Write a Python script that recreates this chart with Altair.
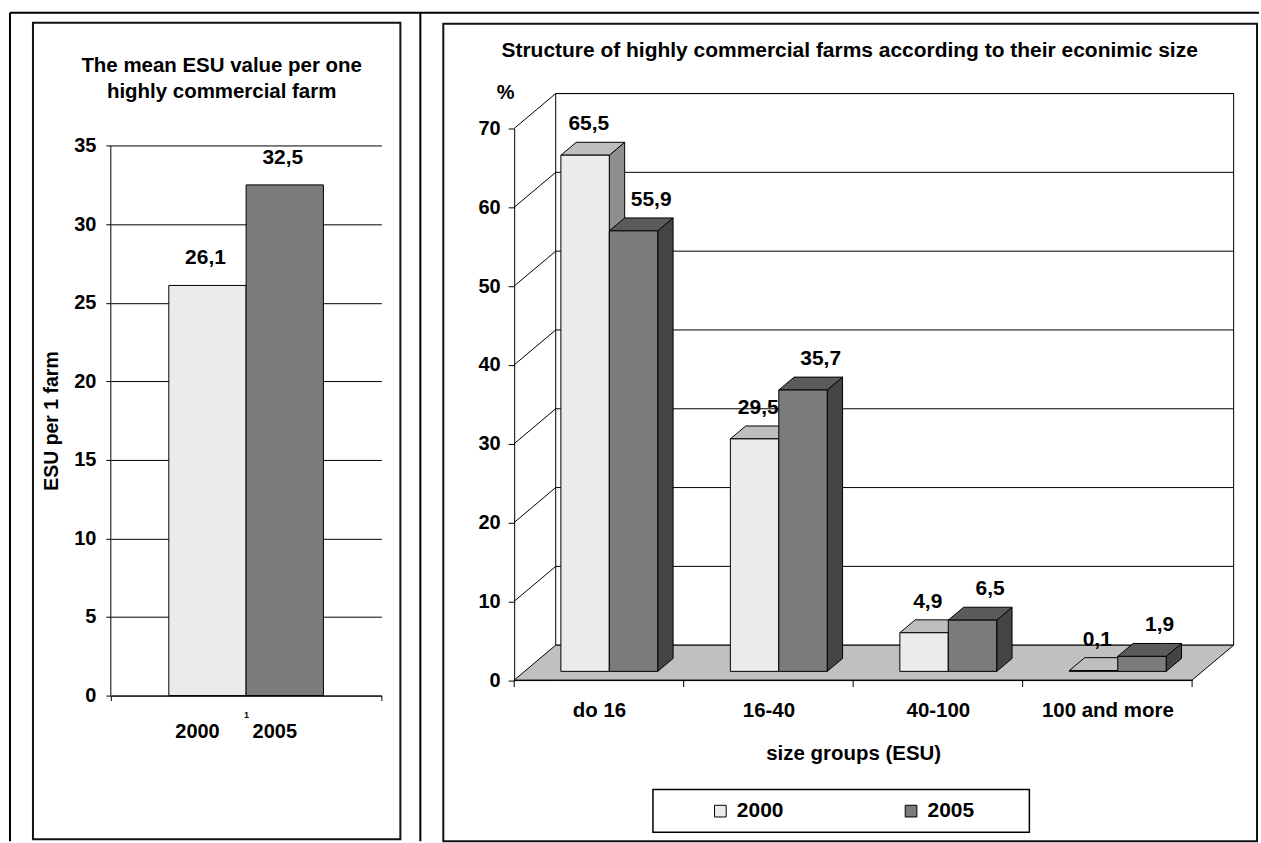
import json

import altair as alt
import pandas as pd

# ---------------- data ----------------
years = ["2000", "2005"]
mean_esu = [26.1, 32.5]                       # ESU per one highly commercial farm
size_groups = ["do 16", "16-40", "40-100", "100 and more"]
share_2000 = [65.5, 29.5, 4.9, 0.1]           # % of farms
share_2005 = [55.9, 35.7, 6.5, 1.9]           # % of farms
esu_ticks = [0, 5, 10, 15, 20, 25, 30, 35]
pct_ticks = [0, 10, 20, 30, 40, 50, 60, 70]
group_edges = [0, 1, 2, 3, 4]

title_left = "The mean ESU value per one\nhighly commercial farm"
title_right = "Structure of highly commercial farms according to their econimic size"

# ---------------- styling ----------------
FONT = "Liberation Sans"
FRONT = {"2000": "#ebebeb", "2005": "#7b7b7b"}
TOP = {"2000": "#bebebe", "2005": "#5b5b5b"}
SIDE = {"2000": "#8f8f8f", "2005": "#444444"}
FLOOR = "#c0c0c0"
TICK_FS, VALUE_FS, CAT_FS, TITLE_FS = 20, 21, 20.5, 20.5


def fmt(v):
    return f"{v:.1f}".replace(".", ",")


one = pd.DataFrame({"k": [0]})

# ================= left panel: mean ESU =================
LW, LH = 271, 568
l_x = alt.Scale(paddingInner=0, paddingOuter=0)
l_off = alt.Scale(domain=years, paddingInner=0, paddingOuter=0.75)
l_y = alt.Scale(domain=[0, 36.09], nice=False, zero=True)
l_color = alt.Scale(domain=years, range=[FRONT[y] for y in years])

# one axis definition per channel, shared by every layer that uses the scale
l_xaxis = alt.Axis(title=None, labelAngle=0, labelFontSize=9, labelPadding=10,
                   tickSize=5, tickBand="extent")
l_yaxis = alt.Axis(values=esu_ticks, grid=True, gridColor="black", gridWidth=1,
                   domain=False, tickSize=5, labelPadding=10, labelFontSize=TICK_FS,
                   title="ESU  per 1 farm", titleFontSize=19.5, titleAngle=270,
                   titleX=-53, titleY=292.5, titleAlign="center",
                   titleBaseline="alphabetic")

left_df = pd.DataFrame({
    "cat": ["1"] * len(years),
    "year": years,
    "value": mean_esu,
    "label": [fmt(v) for v in mean_esu],
})

X_L = alt.X("cat:N", scale=l_x, axis=l_xaxis)
OFF_L = alt.XOffset("year:N", scale=l_off)
Y_L = alt.Y("value:Q", scale=l_y, axis=l_yaxis)

left_bars = alt.Chart(left_df).mark_bar(stroke="black", strokeWidth=1).encode(
    x=X_L, xOffset=OFF_L, y=Y_L,
    color=alt.Color("year:N", scale=l_color, legend=None),
)

left_axis_line = alt.Chart(pd.DataFrame({"value": [esu_ticks[0]], "hi": [esu_ticks[-1]]})).mark_rule(
    color="black", strokeWidth=1
).encode(x=alt.value(0), y=Y_L, y2="hi:Q")

left_values = alt.Chart(left_df).mark_text(
    fontSize=VALUE_FS, fontWeight="bold", baseline="alphabetic", dy=-21, dx=-2, color="black"
).encode(x=X_L, xOffset=OFF_L, y=Y_L, text="label:N")

left_years = alt.Chart(left_df).mark_text(
    fontSize=TICK_FS, fontWeight="bold", baseline="alphabetic", dx=-10, color="black"
).encode(x=X_L, xOffset=OFF_L, y=alt.value(611), text="year:N")

left_title = alt.Chart(pd.DataFrame({"t": [title_left]})).mark_text(
    fontSize=TITLE_FS, fontWeight="bold", baseline="alphabetic", align="center",
    lineBreak="\n", lineHeight=26, color="black"
).encode(x=alt.value(111), y=alt.value(-56.3), text="t:N")

# page frame (top rule, left edge, column divider) and the panel box
frame_top = alt.Chart(one).mark_rule(color="black", strokeWidth=2).encode(
    x=alt.value(-101), x2=alt.value(1150), y=alt.value(-116))
frame_left = alt.Chart(one).mark_rule(color="black", strokeWidth=2).encode(
    x=alt.value(-101), y=alt.value(-116), y2=alt.value(714))
frame_mid = alt.Chart(one).mark_rule(color="black", strokeWidth=2).encode(
    x=alt.value(310), y=alt.value(-116), y2=alt.value(714))
left_box = alt.Chart(one).mark_rect(fillOpacity=0, stroke="#111", strokeWidth=2).encode(
    x=alt.value(-78), x2=alt.value(290), y=alt.value(-106), y2=alt.value(712))

left = alt.layer(
    left_bars, left_axis_line, left_values, left_years, left_title,
    frame_top, frame_left, frame_mid, left_box,
).properties(width=LW, height=LH)

# ================= right panel: 3-D clustered columns =================
RW, RH = 679, 552.5
r_x = alt.Scale(domain=[0, 4], nice=False, zero=False)
r_y = alt.Scale(domain=[0, 70], nice=False, zero=False)
r_color = alt.Scale(domain=years, range=[FRONT[y] for y in years])

label_expr = f"{json.dumps(size_groups)}[floor(datum.value)]"
r_xaxis = alt.Axis(values=[0.5, 1.5, 2.5, 3.5], labelExpr=label_expr, ticks=False, grid=False,
                   labelFlush=False, labelPadding=20, labelFontSize=CAT_FS, labelAngle=0,
                   title="size groups (ESU)", titleFontSize=CAT_FS, titlePadding=23)
r_yaxis = alt.Axis(values=pct_ticks, grid=False, tickSize=6, labelPadding=8, labelFontSize=TICK_FS,
                   title="%", titleFontSize=TICK_FS, titleAngle=0, titleX=-9, titleY=-30,
                   titleAlign="center", titleBaseline="alphabetic")
X_R = alt.X("x:Q", scale=r_x, axis=r_xaxis)
Y_R = alt.Y("y:Q", scale=r_y, axis=r_yaxis)

DX, DY = 0.245, 4.43          # depth of the box, in axis units
BAR = 1 / 3.5                 # column width (gap width 150 %)
GAP = 0.75 * BAR
FDEP, BDEP = 0.25, 0.62       # front / back depth of the columns
FX, FY = FDEP * DX, FDEP * DY
BX, BY = BDEP * DX, BDEP * DY
LABEL_DX = {"2000": -4, "2005": 10}

fronts, sides, tops, labels = [], [], [], []
for s, (yr, vals) in enumerate(zip(years, [share_2000, share_2005])):
    for i, v in enumerate(vals):
        xl = i + GAP + s * BAR
        xr = xl + BAR
        face = f"{yr}-{i}"
        fronts.append(dict(year=yr, x=xl + FX, x2=xr + FX, y=FY, y2=v + FY))
        sides += [
            dict(year=yr, face=face, x=xr + FX, y=FY, y2=v + FY),
            dict(year=yr, face=face, x=xr + BX, y=BY, y2=v + BY),
        ]
        tops += [
            dict(year=yr, face=face, x=xl + FX, y=v + FY, y2=v + FY),
            dict(year=yr, face=face, x=xl + BX, y=v + FY, y2=v + BY),
            dict(year=yr, face=face, x=xr + FX, y=v + FY, y2=v + BY),
            dict(year=yr, face=face, x=xr + BX, y=v + BY, y2=v + BY),
        ]
        labels.append(dict(year=yr, x=(xl + xr) / 2 + (FX + BX) / 2, y=v + BY, label=fmt(v)))

fronts = pd.DataFrame(fronts)
sides = pd.DataFrame(sides)
tops = pd.DataFrame(tops)
labels = pd.DataFrame(labels)

wall = pd.DataFrame({"x": [DX], "x2": [4 + DX], "y": [DY], "y2": [pct_ticks[-1] + DY]})
floor = pd.DataFrame({"x": [0, DX, 4, 4 + DX], "y": [0, 0, 0, DY], "y2": [0, DY, DY, DY]})
grid = pd.DataFrame({"x": DX, "x2": 4 + DX, "y": [v + DY for v in pct_ticks[1:]]})
diag = pd.DataFrame({"x": 0, "x2": DX, "y": pct_ticks[1:], "y2": [v + DY for v in pct_ticks[1:]]})
edges = pd.DataFrame({"x": group_edges})

wall_l = alt.Chart(wall).mark_rect(fill="white", stroke="black", strokeWidth=1).encode(
    x=X_R, x2="x2:Q", y=Y_R, y2="y2:Q")

floor_l = alt.Chart(floor).mark_area(
    orient="vertical", fill=FLOOR, stroke="black", strokeWidth=1, opacity=1
).encode(x=X_R, y=Y_R, y2="y2:Q")

grid_l = alt.Chart(grid).mark_rule(color="black", strokeWidth=1).encode(
    x=X_R, x2="x2:Q", y=Y_R)

diag_l = alt.Chart(diag).mark_rule(color="black", strokeWidth=1).encode(
    x=X_R, x2="x2:Q", y=Y_R, y2="y2:Q")

ticks_l = alt.Chart(edges).mark_rule(color="black", strokeWidth=1).encode(
    x=X_R, y=alt.value(RH), y2=alt.value(RH + 7))


def face_layer(df, yr, fill):
    return alt.Chart(df[df["year"] == yr]).mark_area(
        orient="vertical", fill=fill, stroke="black", strokeWidth=1, opacity=1
    ).encode(x=X_R, y=Y_R, y2="y2:Q", detail="face:N")


fronts_l = alt.Chart(fronts).mark_rect(stroke="black", strokeWidth=1).encode(
    x=X_R, x2="x2:Q", y=Y_R, y2="y2:Q",
    color=alt.Color("year:N", scale=r_color, legend=alt.Legend(
        orient="none", legendX=196, legendY=673, direction="horizontal",
        columns=2, columnPadding=117, symbolType="square", symbolSize=137,
        symbolStrokeColor="black", symbolStrokeWidth=1, labelFontSize=21,
        labelFontWeight="bold", labelColor="black", labelOffset=6,
        title=None, padding=0)),
)

label_layers = [
    alt.Chart(labels[labels["year"] == yr]).mark_text(
        fontSize=VALUE_FS, fontWeight="bold", baseline="alphabetic", dy=-12,
        dx=LABEL_DX[yr], color="black"
    ).encode(x=X_R, y=Y_R, text="label:N")
    for yr in years
]

right_title = alt.Chart(pd.DataFrame({"t": [title_right]})).mark_text(
    fontSize=21, fontWeight="bold", baseline="alphabetic", align="center", color="black"
).encode(x=alt.value(336), y=alt.value(-72), text="t:N")

legend_box = alt.Chart(one).mark_rect(fillOpacity=0, stroke="black", strokeWidth=1.5).encode(
    x=alt.value(139), x2=alt.value(516), y=alt.value(662), y2=alt.value(705))
right_box = alt.Chart(one).mark_rect(fillOpacity=0, stroke="#111", strokeWidth=2).encode(
    x=alt.value(-71), x2=alt.value(744), y=alt.value(-105), y2=alt.value(714))

right = alt.layer(
    wall_l, floor_l, grid_l, diag_l, ticks_l,
    face_layer(sides, "2000", SIDE["2000"]), face_layer(tops, "2000", TOP["2000"]),
    face_layer(sides, "2005", SIDE["2005"]), face_layer(tops, "2005", TOP["2005"]),
    fronts_l, *label_layers, right_title, legend_box, right_box,
).properties(width=RW, height=RH)

chart = alt.hconcat(left, right, spacing=133, bounds="flush").resolve_scale(
    color="independent"
).resolve_legend(color="independent").properties(
    padding={"left": 8, "top": 10, "right": 0, "bottom": 0},
    background="white",
).configure(font=FONT).configure_view(stroke="transparent").configure_axis(
    domainColor="black", tickColor="black", labelColor="black", titleColor="black",
    labelFont=FONT, titleFont=FONT, labelFontWeight="bold", titleFontWeight="bold",
)

chart.save("out.html", embed_options={"renderer": "svg", "actions": False})
